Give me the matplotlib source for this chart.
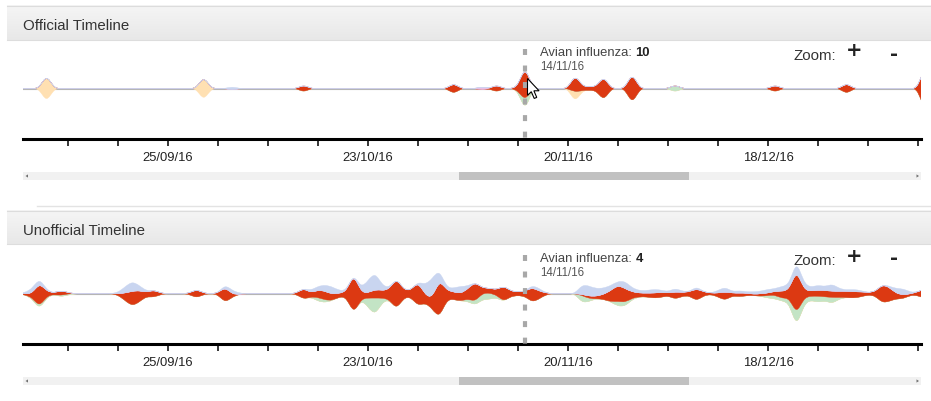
import numpy as np
import matplotlib
matplotlib.use('Agg')
import matplotlib.pyplot as plt
from matplotlib.path import Path
from matplotlib.patches import PathPatch, Rectangle, Polygon

plt.rcParams['font.family'] = ['Liberation Sans', 'DejaVu Sans']
plt.rcParams['lines.scale_dashes'] = False

# ---------------- data (x = days since 25/09/16) ----------------
tick_days = list(range(-14, 106, 7))
tick_labels = {0: '25/09/16', 28: '23/10/16', 56: '20/11/16', 84: '18/12/16'}
x_range = (-20.3, 105.42)
hover_day = 50
hover_label = '14/11/16'
series_names = ['Other A', 'Other B', 'Avian influenza', 'Other C', 'Other D']
series_colors = ['#ffe0b2', '#c3e4c5', '#dc3912', '#e6c0e6', '#c9d5f0']

# Official timeline (sparse daily counts)
off_peach_days = [-17, 5, 57]
off_peach_counts = [8, 7, 3]
off_green_days = [50, 71]
off_green_counts = [3, 2]
off_red_days = [19, 40, 46, 49, 50, 57, 58, 59, 60, 61, 65, 85, 95, 106]
off_red_counts = [2, 3, 2, 1, 10, 5, 1, 1, 1, 7, 9, 2, 3, 14]
off_purple_days = [44]
off_purple_counts = [1]
off_blue_days = [9]
off_blue_counts = [1]
off_hover_value = 10

# Unofficial timeline
un_red_days = [-20, -19, -18, -17, -16, -15, -14, -7, -6, -5, -4, -3, -2, -1, 3, 4, 5, 7, 8, 9,
               18, 19, 20, 21, 22, 23, 24, 25, 26, 27, 28, 29, 30, 31, 32, 33, 34, 35, 36, 37, 38, 39,
               40, 41, 42, 43, 44, 45, 46, 47, 48, 49, 50, 51, 52, 53, 58, 59, 60, 61, 62, 63, 64, 65,
               66, 67, 68, 69, 70, 71, 72, 73, 74, 75, 76, 77, 78, 79, 80, 81, 82, 83, 84, 85, 86, 87,
               88, 89, 90, 91, 92, 93, 94, 95, 96, 97, 98, 99, 100, 101, 102, 103, 104, 105, 106, 107]
un_red_counts = [1, 3, 20, 4, 1, 4, 1, 1, 6, 12, 9, 3, 6, 1, 1, 7, 1, 1, 13, 2,
                 1, 9, 3, 6, 7, 5, 3, 4, 34, 5, 4, 7, 6, 8, 26, 6, 5, 20, 6, 8, 32, 7,
                 6, 6, 8, 16, 4, 4, 4, 13, 4, 3, 4, 12, 6, 1, 1, 2, 2, 4, 9, 13, 11, 5,
                 3, 3, 4, 4, 2, 6, 3, 3, 10, 3, 1, 3, 7, 2, 3, 2, 1, 2, 2, 3, 6, 6,
                 38, 6, 4, 5, 5, 5, 5, 5, 5, 4, 2, 3, 15, 11, 4, 3, 1, 3, 8, 4]
un_blue_days = [-20, -19, -18, -17, -7, -6, -5, -4, -3, 8, 9, 10, 20, 21, 22, 23, 24, 25, 27, 28,
                29, 30, 31, 36, 37, 38, 39, 40, 41, 42, 51, 52, 58, 59, 60, 61, 62, 63, 64, 65,
                66, 67, 68, 69, 70, 71, 72, 74, 77, 78, 79, 80, 81, 82, 83, 84, 85, 86, 87, 88,
                89, 90, 91, 92, 93, 94, 95, 96, 97, 101, 102, 103, 104]
un_blue_counts = [1, 4, 4, 1, 1, 5, 8, 4, 1, 2, 3, 1, 2, 3, 5, 6, 2, 1, 3, 10,
                  14, 4, 1, 8, 16, 8, 2, 3, 6, 2, 2, 2, 8, 8, 6, 5, 4, 3, 6, 3,
                  2, 2, 3, 2, 1, 3, 1, 2, 2, 4, 1, 2, 1, 2, 2, 3, 2, 4, 4, 8,
                  5, 3, 4, 3, 6, 2, 1, 2, 1, 1, 4, 5, 1]
un_green_days = [-19, -18, -17, -15, -14, 21, 22, 28, 29, 30, 42, 43, 44, 45, 46, 58, 59, 63, 64, 65,
                 84, 85, 86, 87, 88, 89, 90, 91, 92, 93, 94]
un_green_counts = [1, 2, 1, 1, 1, 3, 2, 7, 14, 3, 2, 3, 5, 5, 2, 6, 2, 4, 3, 1,
                   2, 3, 2, 4, 11, 5, 3, 5, 3, 5, 1]
un_hover_value = 4

# ---------------- helpers ----------------
DAYS = np.arange(-24, 111)


def dense(days, counts):
    v = np.zeros(len(DAYS), dtype=float)
    for d, c in zip(days, counts):
        v[d - DAYS[0]] = c
    return v


def basis_edge(xs, ys, first):
    P = np.column_stack([xs, ys])
    n = len(P)
    verts, codes = [], []
    S = lambda i: (P[i - 1] + 4 * P[i] + P[i + 1]) / 6.0
    verts.append(S(1)); codes.append(Path.MOVETO if first else Path.LINETO)
    for i in range(1, n - 2):
        verts += [(2 * P[i] + P[i + 1]) / 3.0, (P[i] + 2 * P[i + 1]) / 3.0, S(i + 1)]
        codes += [Path.CURVE4] * 3
    return verts, codes


def area_path(xs, hi, lo):
    v1, c1 = basis_edge(xs, hi, True)
    v2, c2 = basis_edge(xs[::-1], lo[::-1], False)
    verts = v1 + v2 + [v1[0]]
    codes = c1 + c2 + [Path.CLOSEPOLY]
    return Path(np.array(verts), codes)


W, H = 931, 401
fig = plt.figure(figsize=(W / 100, H / 100), dpi=100)

# background overlay in pixel coordinates
bg = fig.add_axes([0, 0, 1, 1], zorder=0)
bg.set_xlim(0, W); bg.set_ylim(H, 0); bg.axis('off')


def header(y0, y1, title, ty):
    grad = np.linspace(0, 1, 40)[:, None, None]
    top = np.array([245, 245, 245]) / 255.0
    bot = np.array([232, 232, 232]) / 255.0
    img = top + (bot - top) * grad
    bg.imshow(img, extent=(7, W, y1, y0), aspect='auto', interpolation='bilinear', zorder=1)
    bg.plot([7, W], [y0 + 0.5, y0 + 0.5], color='#dcdcdc', lw=0.8, zorder=2)
    bg.plot([7, W], [y1 - 0.5, y1 - 0.5], color='#dddddd', lw=0.8, zorder=2)
    bg.text(23, ty, title, fontsize=10.8, color='#333333', va='baseline', ha='left', zorder=3)


def scrollbar(y0, y1):
    bg.add_patch(Rectangle((23, y0), 898, y1 - y0, facecolor='#f1f1f1', edgecolor='none', zorder=1))
    bg.add_patch(Rectangle((459, y0), 230, y1 - y0, facecolor='#c1c1c1', edgecolor='none', zorder=2))
    ym = (y0 + y1) / 2
    bg.add_patch(Polygon([[25.5, ym], [28, ym - 1.6], [28, ym + 1.6]], closed=True,
                         facecolor='#707070', edgecolor='none', zorder=3))
    bg.add_patch(Polygon([[919, ym], [916.5, ym - 1.6], [916.5, ym + 1.6]], closed=True,
                         facecolor='#707070', edgecolor='none', zorder=3))


header(5, 40, 'Official Timeline', 29.5)
header(210, 244, 'Unofficial Timeline', 235)
bg.plot([37, W], [205.5, 205.5], color='#e3e3e3', lw=1.0, zorder=2)
scrollbar(172, 180)
scrollbar(377, 385)

fg = fig.add_axes([0, 0, 1, 1], zorder=10)
fg.set_xlim(0, W); fg.set_ylim(H, 0); fg.axis('off')
fg.patch.set_alpha(0)


def stream_chart(ax_top_px, base_px, k, layers, hover_val, tip_y, date_y, zoom_y, plus_y, minus_y,
                 dash_top):
    axis_px = ax_top_px + 98
    ax = fig.add_axes([23 / W, 1 - axis_px / H, 898 / W, 98 / H], zorder=5)
    ax.patch.set_alpha(0)
    ax.set_xlim(*x_range)
    ax.set_ylim(-(axis_px - base_px) / k, (base_px - ax_top_px) / k)
    xs = DAYS.astype(float)
    total = sum(layers)
    cum = -total / 2.0
    ax.plot(x_range, [0, 0], color='#b5b5b5', lw=0.8, zorder=1)
    for vals, col in zip(layers, series_colors):
        hi = cum + vals
        ax.add_patch(PathPatch(area_path(xs, hi, cum), facecolor=col, edgecolor=col,
                               lw=0.3, zorder=2))
        cum = hi
    ax.plot([hover_day, hover_day], [(axis_px - dash_top) / 98.0, 0.0],
            transform=ax.get_xaxis_transform(), color='#a8a8a8', lw=3.0,
            linestyle=(0, (4.3, 7.6)), solid_capstyle='butt', dash_capstyle='butt', zorder=6)
    for s in ['top', 'left', 'right']:
        ax.spines[s].set_visible(False)
    ax.spines['bottom'].set_linewidth(2.2)
    ax.spines['bottom'].set_color('black')
    ax.set_yticks([])
    ax.set_xticks(tick_days, [tick_labels.get(d, '') for d in tick_days])
    ax.tick_params(axis='x', length=5.2, width=1.1, color='black', pad=4.0,
                   labelsize=9.36, labelcolor='#222222')
    # tooltip
    r = fig.canvas.get_renderer()
    t = fg.text(540, tip_y, 'Avian influenza: ', fontsize=9.36, color='#444444', va='baseline')
    bb = t.get_window_extent(r)
    fg.text(540 + bb.width, tip_y, str(hover_val), fontsize=9.36, weight='bold',
            color='#222222', va='baseline')
    fg.text(540, date_y, hover_label, fontsize=8.3, color='#555555', va='baseline')
    fg.text(793, zoom_y, 'Zoom:', fontsize=10.8, color='#333333', va='baseline')
    fg.text(854, plus_y, '+', fontsize=14, color='#222222', va='center', ha='center',
            family='DejaVu Sans', weight='bold')
    fg.text(894, minus_y, '-', fontsize=14, color='#222222', va='center', ha='center',
            family='DejaVu Sans', weight='bold')
    return ax


off_layers = [dense(off_peach_days, off_peach_counts), dense(off_green_days, off_green_counts),
              dense(off_red_days, off_red_counts), dense(off_purple_days, off_purple_counts),
              dense(off_blue_days, off_blue_counts)]
zero = np.zeros(len(DAYS))
un_layers = [zero, dense(un_green_days, un_green_counts), dense(un_red_days, un_red_counts),
             zero, dense(un_blue_days, un_blue_counts)]

stream_chart(41, 88.5, 3.75, off_layers, off_hover_value, 56.5, 70, 60, 51, 54, 49)
stream_chart(246, 293.7, 1.25, un_layers, un_hover_value, 262.3, 275.7, 265, 256, 259, 255)

# mouse pointer visible in the screenshot
cur = np.array([[0, 0], [0, 16], [3.6, 12.6], [6.4, 19], [8.8, 18], [6.1, 11.7], [11, 11.7]])
fg.add_patch(Polygon(cur * 1.05 + [527.5, 78.5], closed=True, facecolor='white',
                     edgecolor='black', lw=0.8, zorder=20))

fig.savefig('out.png', dpi=100)
